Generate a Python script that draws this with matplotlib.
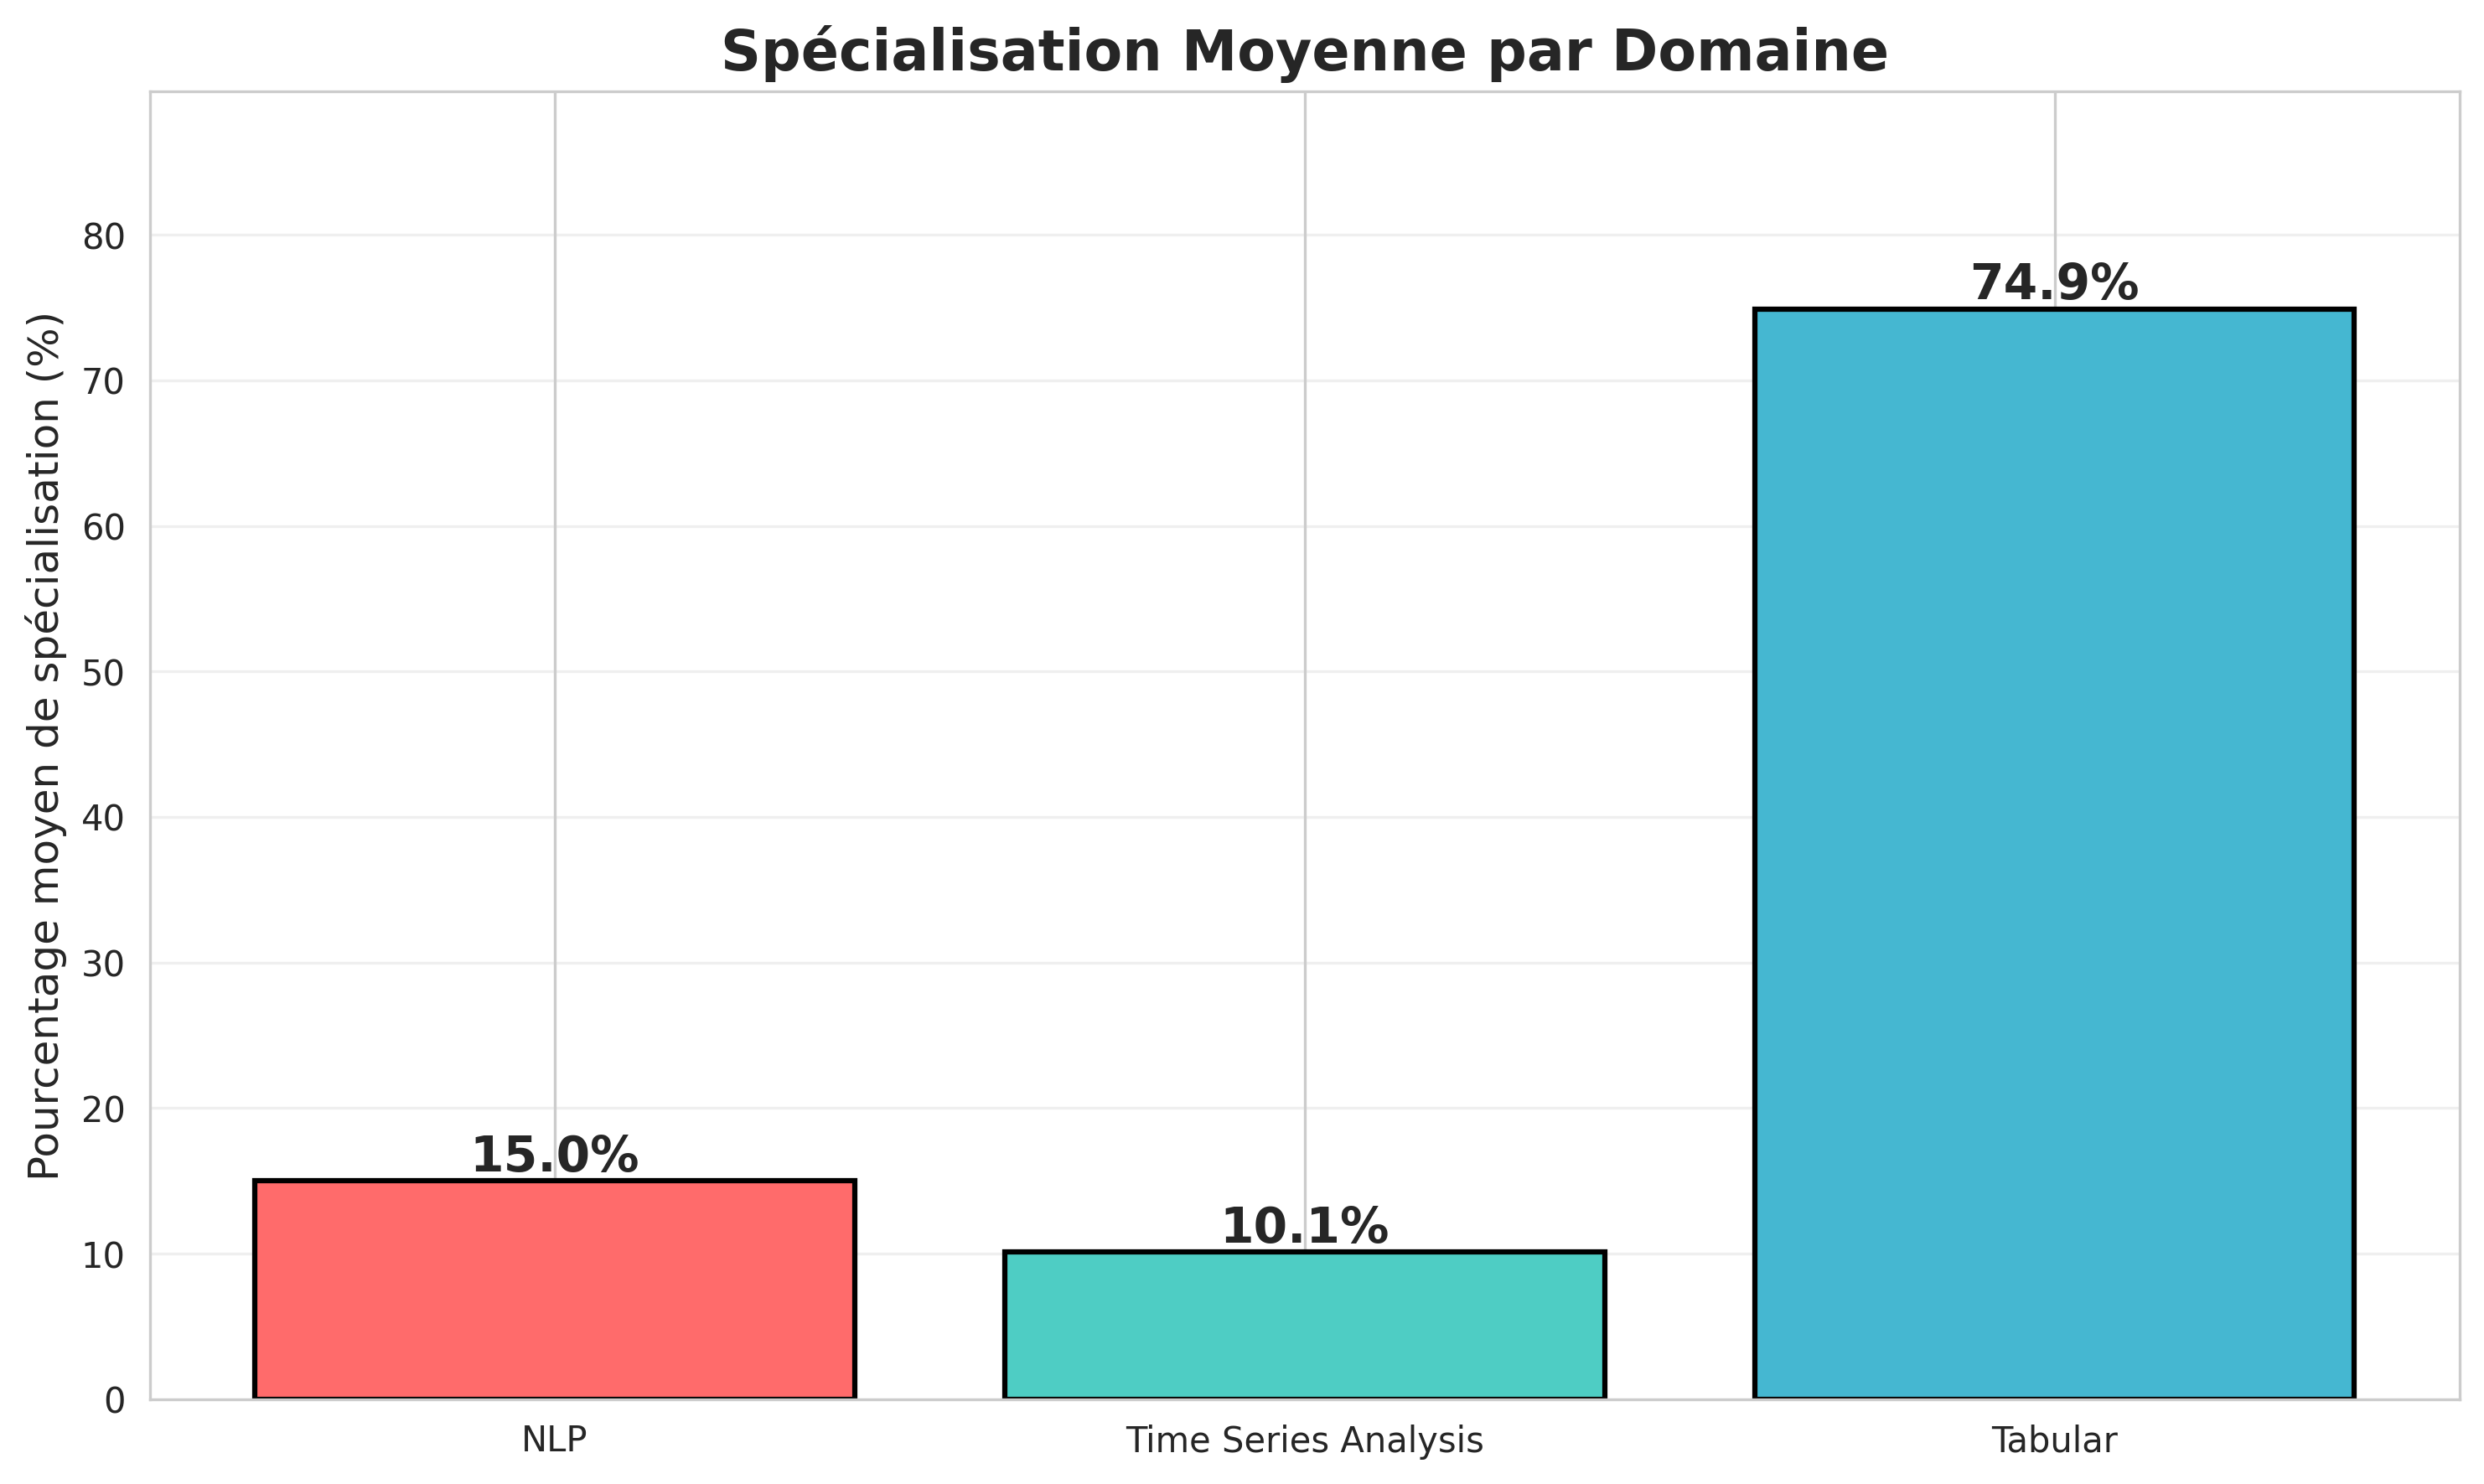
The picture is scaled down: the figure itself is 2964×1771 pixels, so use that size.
import matplotlib
matplotlib.use('Agg')
import matplotlib.pyplot as plt
import seaborn as sns

# Data
domaines = ['NLP', 'Time Series Analysis', 'Tabular']
specialisation = [15.0, 10.1, 74.9]
couleurs = ['#FF6B6B', '#4ECDC4', '#45B7D1']

sns.set_style('whitegrid')

fig, ax = plt.subplots(figsize=(10, 6))
bars = ax.bar(domaines, specialisation, color=couleurs,
              edgecolor='black', linewidth=1.5)

for bar, val in zip(bars, specialisation):
    ax.text(bar.get_x() + bar.get_width() / 2, bar.get_height(),
            f'{val:.1f}%', ha='center', va='bottom',
            fontsize=14, fontweight='bold', color='#262626')

ax.set_ylabel('Pourcentage moyen de spécialisation (%)', fontsize=12)
ax.set_title('Spécialisation Moyenne par Domaine', fontsize=16, fontweight='bold')
ax.set_ylim(0, max(specialisation) * 1.2)
ax.grid(axis='y', alpha=0.3)

plt.tight_layout()
plt.savefig('out.png', dpi=300, bbox_inches='tight')
